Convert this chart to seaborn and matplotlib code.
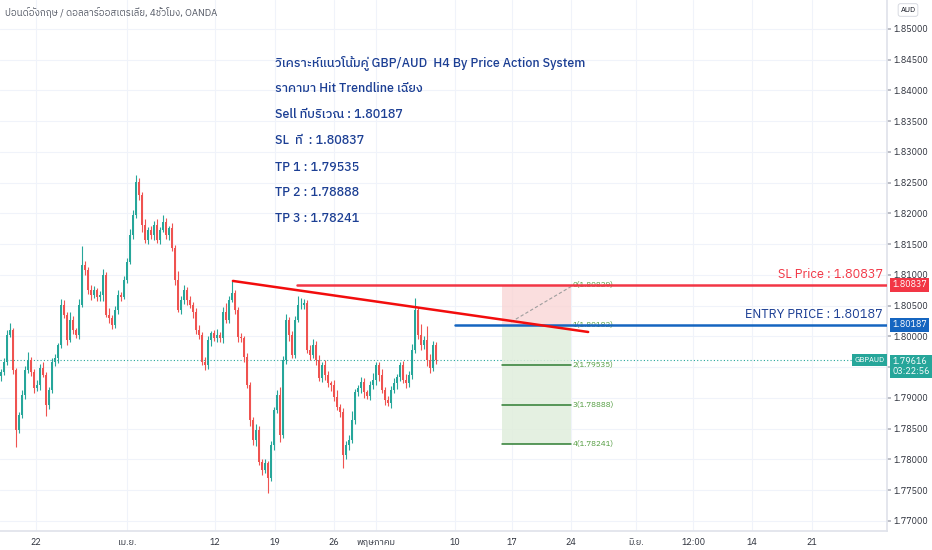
import numpy as np
import pandas as pd
import matplotlib
matplotlib.use("Agg")
import matplotlib.pyplot as plt
import matplotlib.transforms as mtransforms
import seaborn as sns

# ---- data (GBP/AUD, 4h candles, price) ----
first_open = 1.7935
closes = [
    1.7942, 1.7958, 1.8002, 1.8010, 1.7945, 1.7848, 1.7872, 1.7905, 1.7945, 1.7962,
    1.7942, 1.7916, 1.7921, 1.7949, 1.7937, 1.7888, 1.7913, 1.7958, 1.7965, 1.7986,
    1.8051, 1.8035, 1.7994, 1.8027, 1.8010, 1.8002, 1.8051, 1.8116, 1.8108, 1.8075,
    1.8067, 1.8075, 1.8064, 1.8067, 1.8100, 1.8035, 1.8030, 1.8018, 1.8043, 1.8067,
    1.8064, 1.8092, 1.8121, 1.8165, 1.8197, 1.8251, 1.8230, 1.8181, 1.8157, 1.8173,
    1.8165, 1.8181, 1.8157, 1.8173, 1.8186, 1.8165, 1.8176, 1.8144, 1.8092, 1.8043,
    1.8059, 1.8075, 1.8059, 1.8051, 1.8040, 1.8010, 1.8002, 1.7958, 1.7953, 1.7994,
    1.8005, 1.7997, 1.8002, 1.7997, 1.8040, 1.8027, 1.8059, 1.8070, 1.8043, 1.7999,
    1.7997, 1.7966, 1.7921, 1.7864, 1.7831, 1.7848, 1.7796, 1.7783, 1.7794, 1.7770,
    1.7823, 1.7880, 1.7905, 1.7840, 1.7962, 1.8027, 1.8002, 1.7970, 1.8027, 1.8051,
    1.8051, 1.8054, 1.7978, 1.7970, 1.7986, 1.7962, 1.7932, 1.7953, 1.7937, 1.7924,
    1.7921, 1.7901, 1.7885, 1.7877, 1.7807, 1.7823, 1.7831, 1.7864, 1.7909, 1.7916,
    1.7926, 1.7909, 1.7903, 1.7921, 1.7929, 1.7953, 1.7937, 1.7913, 1.7896, 1.7892,
    1.7913, 1.7924, 1.7934, 1.7953, 1.7929, 1.7924, 1.7937, 1.7978, 1.8043, 1.8002,
    1.7986, 1.7994, 1.7962, 1.7949, 1.7986, 1.79616,
]
# wick lengths in pips
upper_wick = [
    4, 6, 8, 12, 3, 4, 5, 7, 6, 12,
    5, 4, 8, 6, 9, 5, 4, 6, 7, 3,
    10, 8, 5, 12, 6, 4, 9, 30, 6, 5,
    8, 7, 4, 6, 9, 5, 11, 4, 6, 8,
    5, 6, 7, 9, 8, 11, 6, 5, 9, 4,
    7, 6, 9, 5, 12, 6, 4, 8, 5, 14,
    6, 9, 5, 7, 4, 6, 8, 5, 9, 6,
    4, 6, 10, 5, 8, 14, 6, 20, 5, 4,
    6, 3, 7, 5, 4, 9, 6, 5, 7, 4,
    6, 5, 8, 12, 6, 9, 5, 7, 6, 15,
    12, 6, 5, 8, 10, 6, 7, 5, 9, 6,
    4, 8, 12, 5, 6, 7, 9, 14, 6, 5,
    8, 6, 4, 7, 12, 5, 6, 9, 5, 7,
    6, 8, 4, 6, 7, 10, 6, 9, 20, 5,
    18, 6, 22, 9, 7, 5,
]
lower_wick = [
    8, 5, 4, 3, 6, 28, 6, 5, 7, 4,
    6, 8, 5, 9, 4, 18, 6, 5, 7, 9,
    5, 6, 8, 4, 7, 5, 6, 4, 9, 6,
    8, 5, 7, 6, 10, 4, 8, 6, 5, 7,
    6, 4, 5, 3, 6, 4, 8, 12, 5, 7,
    6, 9, 5, 7, 4, 6, 8, 5, 9, 4,
    7, 6, 8, 5, 10, 6, 7, 5, 8, 6,
    9, 5, 7, 6, 8, 5, 6, 4, 7, 9,
    6, 8, 5, 10, 7, 9, 6, 8, 5, 25,
    6, 8, 5, 12, 6, 7, 9, 6, 5, 4,
    6, 7, 5, 8, 6, 9, 5, 7, 8, 6,
    10, 7, 5, 9, 21, 6, 8, 5, 7, 6,
    8, 9, 5, 7, 6, 8, 10, 6, 7, 5,
    8, 6, 9, 7, 5, 8, 6, 7, 5, 6,
    8, 7, 10, 9, 6, 7,
]
assert len(closes) == len(upper_wick) == len(lower_wick)

# date axis (bar positions)
date_pos = [11.7, 42, 71.3, 91.3, 111, 125, 151.3, 170.3, 190, 211.7, 230.7, 250.3, 270.3]
date_labels = ["22", "เม.ย.", "12", "19", "26", "พฤษภาคม", "10", "17", "24", "มิ.ย.", "12:00", "14", "21"]

# drawings
trend_x = [77.3, 195.7]
trend_y = [1.8090, 1.8007]
sl_price = 1.80837
sl_start = 98.7
entry_price = 1.80187
entry_start = 151.3
last_price = 1.79616
box_x = [167, 190]
levels = [1.80829, 1.80182, 1.79535, 1.78888, 1.78241]
diag_x = [170, 190.7]
diag_y = [1.80233, 1.80829]

notes = [
    "วิเคราะห์แนวโน้มคู่ GBP/AUD  H4 By Price Action System",
    "ราคามา Hit Trendline เฉียง",
    "Sell ที่บริเวณ : 1.80187",
    "SL  ที่  : 1.80837",
    "TP 1 : 1.79535",
    "TP 2 : 1.78888",
    "TP 3 : 1.78241",
]

sns.set_theme(style="white")
plt.rcParams["font.family"] = ["IBM Plex Sans Thai", "DejaVu Sans"]

UP = "#26a69a"
DOWN = "#ef5350"

df = pd.DataFrame({"close": closes})
df["open"] = [first_open] + closes[:-1]
df["high"] = df[["open", "close"]].max(axis=1) + np.array(upper_wick) * 0.0001
df["low"] = df[["open", "close"]].min(axis=1) - np.array(lower_wick) * 0.0001
df["x"] = np.arange(len(df))
df["color"] = np.where(df["close"] >= df["open"], UP, DOWN)

fig = plt.figure(figsize=(9.32, 5.50), dpi=100)
ax = fig.add_axes([0, 19 / 550, 887 / 932, 531 / 550])

# grid
yt = np.arange(1.770, 1.8501, 0.005)
for p in yt:
    ax.axhline(p, color="#f0f3fa", lw=0.8, zorder=0)
for xp in date_pos:
    ax.axvline(xp, color="#f0f3fa", lw=0.8, zorder=0)

# candles
ax.vlines(df["x"], df["low"], df["high"], colors=df["color"], lw=0.8, zorder=2)
body = (df["close"] - df["open"]).abs().clip(lower=0.00005)
ax.bar(df["x"], body, bottom=df[["open", "close"]].min(axis=1), width=0.7,
       color=df["color"], linewidth=0, zorder=3)

# current price dotted line
ax.axhline(last_price, color=UP, lw=0.8, ls=(0, (1, 2)), zorder=1)

# position tool
ax.fill_between(box_x, levels[1], levels[0], color="#f9d3d3", alpha=0.75, lw=0, zorder=1)
ax.fill_between(box_x, levels[4], levels[1], color="#e0eedc", alpha=0.85, lw=0, zorder=1)
for k, lv in enumerate(levels):
    if k >= 2:
        ax.plot(box_x, [lv, lv], color="#2e7d32", lw=1.1, zorder=4)
    ax.text(box_x[1] + 0.6, lv, f"{k}({lv:.5f})", color="#4f9a3c", fontsize=5.8,
            va="center", ha="left", zorder=4)
ax.plot(diag_x, diag_y, color="#9e9e9e", lw=0.8, ls=(0, (3, 2)), zorder=4)

# SL / entry / trendline
xmax = 295.3
sns.lineplot(x=[sl_start, xmax], y=[sl_price, sl_price], ax=ax, color="#f23645", lw=1.8, zorder=5)
sns.lineplot(x=[entry_start, xmax], y=[entry_price, entry_price], ax=ax, color="#1565c0", lw=1.8, zorder=5)
sns.lineplot(x=trend_x, y=trend_y, ax=ax, color="#f20d0d", lw=1.8, zorder=6)

ax.text(xmax - 1.3, sl_price + 0.0006, "SL Price : 1.80837", color="#f23645",
        fontsize=9.2, ha="right", va="bottom", zorder=7)
ax.text(xmax - 1.3, entry_price + 0.0006, "ENTRY PRICE : 1.80187", color="#1c3f94",
        fontsize=9.2, ha="right", va="bottom", zorder=7)

ax.set_xlim(-1 / 3, xmax)
ax.set_ylim(1.76834, 1.85468)

# axes styling
for s in ["top", "left"]:
    ax.spines[s].set_visible(False)
ax.spines["right"].set_color("#e0e3eb")
ax.spines["bottom"].set_color("#e0e3eb")
ax.yaxis.tick_right()
ax.set_yticks(yt)
# the 1.79500 label sits under the last-price tag
ax.set_yticklabels(["" if abs(v - 1.795) < 1e-6 else f"{v:.5f}" for v in yt])
ax.tick_params(axis="y", labelsize=6.5, labelcolor="#2a2e39", length=3, color="#b2b5be", pad=2)
ax.set_xticks(date_pos)
ax.set_xticklabels(date_labels)
ax.tick_params(axis="x", labelsize=6.5, labelcolor="#2a2e39", length=0, pad=5)

# right scale price tags
tr = mtransforms.blended_transform_factory(ax.transAxes, ax.transData)
tag = dict(boxstyle="square,pad=0.25", lw=0)
ax.text(1.006, sl_price, "1.80837", transform=tr, color="white", fontsize=6.5,
        va="center", ha="left", bbox=dict(fc="#f23645", **tag), zorder=8, clip_on=False)
ax.text(1.006, entry_price, "1.80187", transform=tr, color="white", fontsize=6.5,
        va="center", ha="left", bbox=dict(fc="#1565c0", **tag), zorder=8, clip_on=False)
ax.text(1.006, last_price - 0.0011, "1.79616\n03:22:56", transform=tr, color="white",
        fontsize=6.5, va="center", ha="left", linespacing=1.1,
        bbox=dict(fc=UP, **tag), zorder=8, clip_on=False)
ax.text(0.997, last_price, "GBPAUD", transform=tr, color="white", fontsize=5.5,
        va="center", ha="right", bbox=dict(boxstyle="square,pad=0.3", fc=UP, lw=0), zorder=8)

fig.text(908 / 932, 1 - 10 / 550, "AUD", fontsize=5.5, color="#131722", ha="center", va="center",
         bbox=dict(boxstyle="round,pad=0.3", fc="white", ec="#d1d4dc", lw=0.6))

# header
fig.text(5 / 932, 1 - 13 / 550, "ปอนด์อังกฤษ / ดอลลาร์ออสเตรเลีย, 4ชั่วโมง, OANDA",
         fontsize=6.9, color="#555a66", ha="left", va="center")

# analysis notes
for k, line in enumerate(notes):
    fig.text(275 / 932, 1 - (63 + 26 * k) / 550, line, fontsize=9, color="#1c3f94",
             fontweight="medium", ha="left", va="center")

fig.savefig("out.png", dpi=100, facecolor="white")
